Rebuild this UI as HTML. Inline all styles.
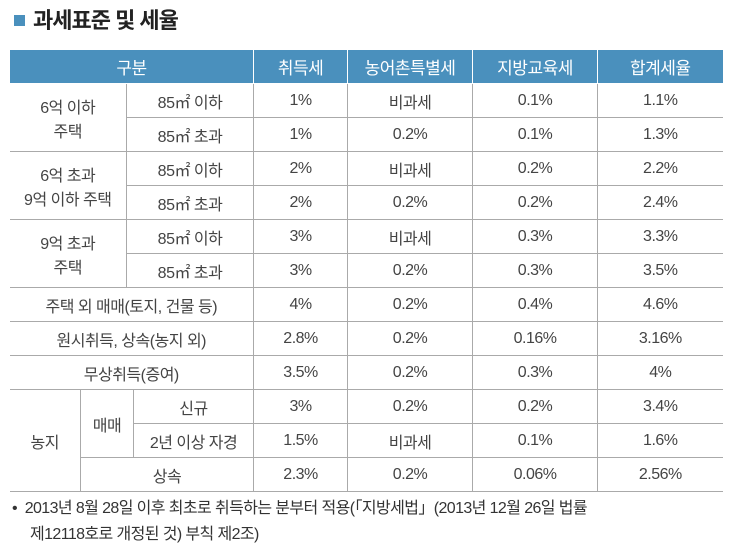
<!DOCTYPE html>
<html><head><meta charset="utf-8"><style>
body{margin:0;width:733px;height:550px;background:#fff;font-family:"Liberation Sans","Noto Sans CJK KR",sans-serif;color:#444;overflow:hidden;position:relative}
.title{position:absolute;left:14px;top:3px;font-size:22px;font-weight:bold;color:#222;letter-spacing:-1px}
.title span{display:inline-block;width:11px;height:11px;background:#4a90bd;margin-right:8px;vertical-align:2px}
table{position:absolute;left:9px;top:50px;border-collapse:collapse;table-layout:fixed;width:713px}
td,th{text-align:center;font-size:16px;padding:0;height:33px;border:1px solid #aaa;font-weight:normal;letter-spacing:-0.5px}
th{background:#4a90bd;color:#fff;height:33px;border-color:#fff;border-top:none;font-size:17px}
tr td:first-child{border-left:none}
tr td:last-child,tr th:last-child{border-right:none}
.note{position:absolute;left:12px;font-size:16px;color:#333;letter-spacing:-0.6px}
</style></head><body>
<div class="title"><span></span>과세표준 및 세율</div>
<table>
<colgroup><col style="width:71px"><col style="width:46px"><col style="width:7px"><col style="width:120px"><col style="width:94px"><col style="width:125px"><col style="width:125px"><col style="width:125px"></colgroup>
<tr><th colspan="4">구분</th><th>취득세</th><th>농어촌특별세</th><th>지방교육세</th><th>합계세율</th></tr>
<tr><td colspan="2" rowspan="2">6억 이하<br>주택</td><td colspan="2">85㎡ 이하</td><td>1%</td><td>비과세</td><td>0.1%</td><td>1.1%</td></tr>
<tr><td colspan="2">85㎡ 초과</td><td>1%</td><td>0.2%</td><td>0.1%</td><td>1.3%</td></tr>
<tr><td colspan="2" rowspan="2">6억 초과<br>9억 이하 주택</td><td colspan="2">85㎡ 이하</td><td>2%</td><td>비과세</td><td>0.2%</td><td>2.2%</td></tr>
<tr><td colspan="2">85㎡ 초과</td><td>2%</td><td>0.2%</td><td>0.2%</td><td>2.4%</td></tr>
<tr><td colspan="2" rowspan="2">9억 초과<br>주택</td><td colspan="2">85㎡ 이하</td><td>3%</td><td>비과세</td><td>0.3%</td><td>3.3%</td></tr>
<tr><td colspan="2">85㎡ 초과</td><td>3%</td><td>0.2%</td><td>0.3%</td><td>3.5%</td></tr>
<tr><td colspan="4">주택 외 매매(토지, 건물 등)</td><td>4%</td><td>0.2%</td><td>0.4%</td><td>4.6%</td></tr>
<tr><td colspan="4">원시취득, 상속(농지 외)</td><td>2.8%</td><td>0.2%</td><td>0.16%</td><td>3.16%</td></tr>
<tr><td colspan="4">무상취득(증여)</td><td>3.5%</td><td>0.2%</td><td>0.3%</td><td>4%</td></tr>
<tr><td rowspan="3">농지</td><td colspan="2" rowspan="2">매매</td><td>신규</td><td>3%</td><td>0.2%</td><td>0.2%</td><td>3.4%</td></tr>
<tr><td>2년 이상 자경</td><td>1.5%</td><td>비과세</td><td>0.1%</td><td>1.6%</td></tr>
<tr><td colspan="3">상속</td><td>2.3%</td><td>0.2%</td><td>0.06%</td><td>2.56%</td></tr>
</table>
<div class="note" style="top:494px">•&nbsp; 2013년 8월 28일 이후 최초로 취득하는 분부터 적용(「지방세법」(2013년 12월 26일 법률</div>
<div class="note" style="top:520px;left:30px">제12118호로 개정된 것) 부칙 제2조)</div>
</body></html>
